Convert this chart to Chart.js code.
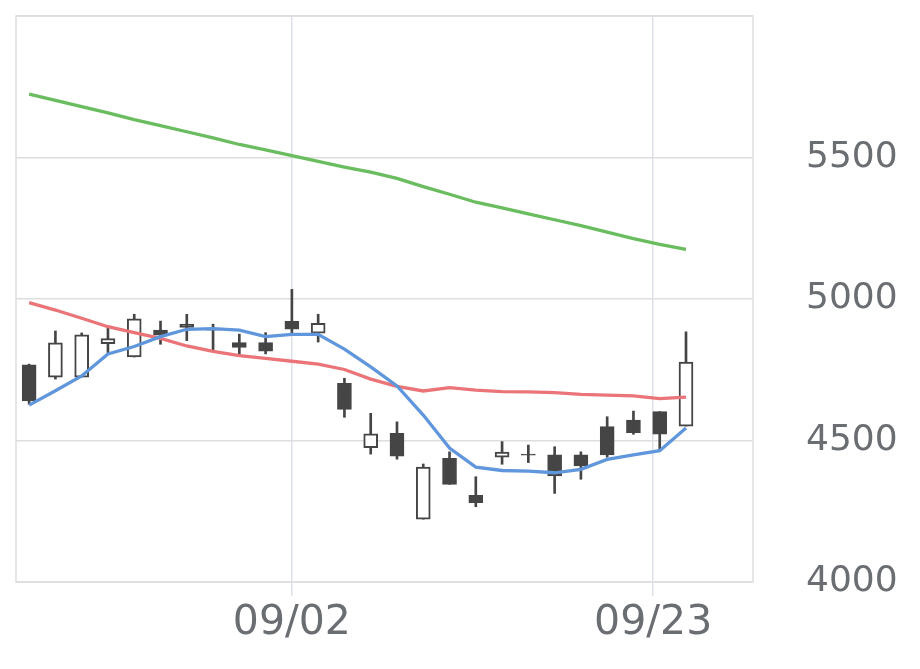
<!DOCTYPE html>
<html>
<head>
<meta charset="utf-8">
<script src="https://cdn.jsdelivr.net/npm/chart.js@4.4.1/dist/chart.umd.min.js"></script>
<style>
  html, body { margin: 0; padding: 0; background: #ffffff; }
  #c { display: block; }
</style>
</head>
<body>
<canvas id="c" width="920" height="669"></canvas>
<script>
// ---- data ----
const dates = ['2024-08-19','2024-08-20','2024-08-21','2024-08-22','2024-08-23','2024-08-26','2024-08-27','2024-08-28','2024-08-29','2024-08-30',
               '2024-09-02','2024-09-03','2024-09-04','2024-09-05','2024-09-06','2024-09-09','2024-09-10','2024-09-11','2024-09-12','2024-09-13',
               '2024-09-17','2024-09-18','2024-09-19','2024-09-20','2024-09-24','2024-09-25'];
const opens  = [4767,4724,4724,4842,4795,4890,4911,4893,4846,4846,4921,4879,4702,4475,4525,4222,4437,4306,4441,4452,4449,4449,4549,4572,4602,4551];
const highs  = [4770,4887,4880,4905,4946,4922,4946,4911,4876,4881,5034,4946,4720,4596,4566,4417,4460,4372,4496,4484,4478,4460,4584,4604,4602,4884];
const lows   = [4628,4717,4724,4808,4795,4840,4853,4820,4799,4806,4881,4848,4582,4452,4434,4222,4345,4266,4416,4422,4313,4363,4441,4522,4464,4551];
const closes = [4640,4845,4873,4860,4930,4872,4900,4890,4829,4816,4893,4914,4610,4524,4445,4406,4345,4280,4459,4448,4375,4410,4449,4528,4522,4777];
const ma5    = [4625,4676,4728,4806,4832,4867,4893,4895,4890,4867,4875,4875,4823,4760,4693,4590,4473,4406,4394,4392,4386,4398,4433,4449,4464,4544];
const ma25   = [4987,4961,4932,4902,4881,4861,4834,4815,4800,4790,4780,4770,4751,4717,4691,4675,4687,4678,4673,4672,4669,4663,4660,4658,4648,4653];
const ma75   = [5724,5702,5680,5658,5634,5613,5591,5569,5546,5527,5507,5486,5466,5448,5426,5397,5370,5342,5322,5301,5280,5259,5236,5213,5193,5175];
const tickDates  = ['2024-09-02','2024-09-23'];
const tickLabels = ['09/02','09/23'];
const yTicks = [4000,4500,5000,5500,6000];

// ---- helpers ----
const dayMs = 86400000;
const dateVals = dates.map(d => Date.parse(d));
function datePos(d) {
  const t = Date.parse(d);
  for (let i = 0; i < dateVals.length - 1; i++) {
    if (t >= dateVals[i] && t <= dateVals[i + 1]) {
      return i + (t - dateVals[i]) / (dateVals[i + 1] - dateVals[i]);
    }
  }
  return dateVals.length - 1 + (t - dateVals[dateVals.length - 1]) / dayMs;
}
const tickPositions = tickDates.map(datePos);

const DARK = '#454545';
const bodies = dates.map((d, i) => ({ x: i, y: [opens[i], closes[i]] }));
const wicks  = dates.map((d, i) => ({ x: i, y: [lows[i], highs[i]] }));
const bodyFill = dates.map((d, i) => closes[i] >= opens[i] ? '#ffffff' : DARK);
const line = (arr) => arr.map((v, i) => ({ x: i, y: v }));

const framePlugin = {
  id: 'frame',
  beforeDatasetsDraw(chart) {
    const { ctx, chartArea: a } = chart;
    ctx.save();
    ctx.strokeStyle = '#dedede';
    ctx.lineWidth = 1.5;
    ctx.strokeRect(a.left, a.top, a.right - a.left, a.bottom - a.top);
    ctx.restore();
  }
};

new Chart(document.getElementById('c'), {
  type: 'bar',
  data: {
    datasets: [
      { type: 'line', label: 'MA5', data: line(ma5), borderColor: '#5f96dc', borderWidth: 3.3, pointRadius: 0, tension: 0, order: 0 },
      { type: 'line', label: 'MA25', data: line(ma25), borderColor: '#ea7478', borderWidth: 3.3, pointRadius: 0, tension: 0, order: 0 },
      { type: 'line', label: 'MA75', data: line(ma75), borderColor: '#69bd5e', borderWidth: 3.3, pointRadius: 0, tension: 0, order: 0 },
      { label: 'body', data: bodies, backgroundColor: bodyFill, borderColor: DARK, borderWidth: 2, borderSkipped: false,
        barThickness: 14, grouped: false, order: 1 },
      { label: 'wick', data: wicks, backgroundColor: DARK, borderWidth: 0, barThickness: 2, grouped: false, order: 2 }
    ]
  },
  options: {
    responsive: false,
    animation: false,
    layout: { padding: { left: 16, top: 16, right: 0, bottom: 0 } },
    plugins: { legend: { display: false }, tooltip: { enabled: false } },
    scales: {
      x: {
        type: 'linear',
        offset: false,
        min: -0.5,
        max: 27.55,
        afterBuildTicks(scale) { scale.ticks = tickPositions.map(v => ({ value: v })); },
        afterFit(scale) { scale.height = 87; scale.paddingLeft = 0; scale.paddingRight = 0; },
        grid: { offset: false, color: '#dde1e8', lineWidth: 1.5, tickLength: 14, drawTicks: true },
        border: { display: false },
        ticks: {
          autoSkip: false,
          maxRotation: 0,
          padding: 3,
          color: '#6a6d71',
          font: { family: '"DejaVu Sans"', size: 41 },
          callback(v) {
            const k = tickPositions.findIndex(p => Math.abs(p - v) < 1e-6);
            return k >= 0 ? tickLabels[k] : '';
          }
        }
      },
      y: {
        type: 'linear',
        position: 'right',
        min: 4000,
        max: 6000,
        afterBuildTicks(scale) { scale.ticks = yTicks.map(v => ({ value: v })); },
        afterFit(scale) { scale.width = 167; scale.paddingTop = 0; scale.paddingBottom = 0; },
        grid: { color: '#dedede', lineWidth: 1.5, drawTicks: false },
        border: { display: false },
        ticks: {
          padding: 53,
          color: '#6a6d71',
          font: { family: '"DejaVu Sans"', size: 36 },
          callback(v) { return v === 6000 ? '' : String(v); }
        }
      }
    }
  },
  plugins: [framePlugin]
});
</script>
</body>
</html>
